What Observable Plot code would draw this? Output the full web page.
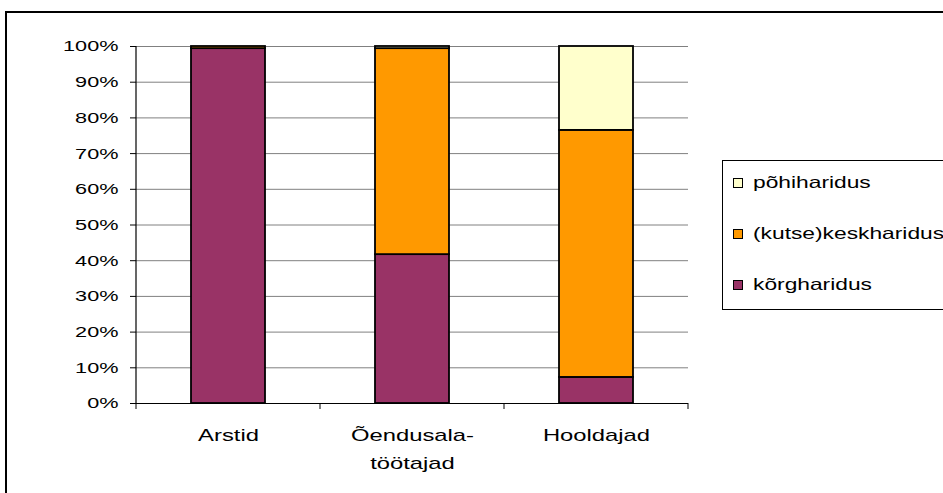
<!DOCTYPE html>
<html>
<head>
<meta charset="utf-8">
<script src="https://cdn.jsdelivr.net/npm/d3@7"></script>
<script src="https://cdn.jsdelivr.net/npm/@observablehq/plot@0.6"></script>
<style>
  html, body { margin: 0; padding: 0; background: #fff; }
  #wrap { position: relative; width: 943px; height: 493px; overflow: hidden; font-family: "Liberation Sans", Arial, sans-serif; }
  #frame { position: absolute; left: 5px; top: 11px; width: 960px; height: 490px; border: 2px solid #000; box-sizing: border-box; }
  #chart { position: absolute; left: 0; top: 0; }
  #legend { position: absolute; left: 722px; top: 160px; width: 240px; height: 150px; border: 1px solid #000; box-sizing: border-box; background: #fff; }
  .li { position: absolute; left: 10px; font-size: 16.5px; color: #000; white-space: nowrap; display: flex; align-items: center; }
  .sw { width: 8px; height: 8px; border: 1.6px solid #000; margin-right: 10px; flex: none; }
  .lt { display: inline-block; transform: scaleX(1.38); transform-origin: 0 50%; }
</style>
</head>
<body>
<div id="wrap">
  <div id="frame"></div>
  <div id="chart"></div>
  <div id="legend"></div>
</div>
<script>
const categories = ["Arstid", "Õendusala-\ntöötajad", "Hooldajad"];
const seriesNames = ["kõrgharidus", "(kutse)keskharidus", "põhiharidus"];
const korgharidus = [99.4, 41.7, 7.3];
const keskharidus = [0.6, 57.7, 69.2];
const pohiharidus = [0.0, 0.6, 23.5];
const seriesColors = ["#993366", "#FF9900", "#FFFFCC"];
const yTicks = [0, 10, 20, 30, 40, 50, 60, 70, 80, 90, 100];

const seriesValues = [korgharidus, keskharidus, pohiharidus];
const data = [];
seriesNames.forEach((s, si) => {
  categories.forEach((c, ci) => {
    data.push({ category: c, series: s, value: seriesValues[si][ci] });
  });
});

const plot = Plot.plot({
  width: 943,
  height: 493,
  marginLeft: 136,
  marginRight: 255,
  marginTop: 46,
  marginBottom: 90,
  style: { fontFamily: "'Liberation Sans', Arial, sans-serif", background: "transparent", overflow: "visible" },
  x: { domain: categories, paddingOuter: 0.3, paddingInner: 0.6, label: null },
  y: { domain: [0, 100], label: null },
  color: { domain: seriesNames, range: seriesColors },
  marks: [
    Plot.gridY(yTicks, { stroke: "#808080", strokeOpacity: 1, strokeWidth: 1 }),
    Plot.barY(data, Plot.stackY({
      x: "category", y: "value", fill: "series", order: seriesNames,
      stroke: "#000", strokeWidth: 1.8
    })),
    Plot.axisY(yTicks, {
      tickFormat: d => d + "%", tickSize: 6, tickPadding: 12, fontSize: 15.5, stroke: "#000", label: null
    }),
    Plot.ruleY([0], { stroke: "#000", strokeWidth: 1 }),
    Plot.axisX({ tickSize: 0, tickPadding: 18, fontSize: 17, lineHeight: 1.62, label: null })
  ]
});

// y axis line and x band boundary ticks drawn with the plot's own scales
const xs = plot.scale("x");
const ys = plot.scale("y");
const svg = d3.select(plot);
const y0 = ys.apply(0), y100 = ys.apply(100);
const step = xs.step;
const bounds = categories.map(c => xs.apply(c) - (step - xs.bandwidth) / 2);
bounds.push(bounds[bounds.length - 1] + step);
svg.append("line")
  .attr("x1", bounds[0]).attr("x2", bounds[0])
  .attr("y1", y100).attr("y2", y0 + 1).attr("stroke", "#000").attr("stroke-width", 1.2);
svg.append("g").selectAll("line").data(bounds).join("line")
  .attr("x1", d => d).attr("x2", d => d)
  .attr("y1", y0).attr("y2", y0 + 6).attr("stroke", "#000");

// horizontally widened text like the original rendering
svg.selectAll("text").each(function () {
  const ax = +this.getAttribute("x") || 0;
  const t = this.getAttribute("transform") || "";
  this.setAttribute("transform", `${t} translate(${ax},0) scale(1.4,1) translate(${-ax},0)`);
});
document.getElementById("chart").appendChild(plot);

// legend
const legend = document.getElementById("legend");
const legendOrder = [2, 1, 0];
legendOrder.forEach((si, i) => {
  const d = document.createElement("div");
  d.className = "li";
  d.style.top = (12 + i * 51) + "px";
  d.innerHTML = `<span class="sw" style="background:${seriesColors[si]}"></span><span class="lt">${seriesNames[si]}</span>`;
  legend.appendChild(d);
});
</script>
</body>
</html>
